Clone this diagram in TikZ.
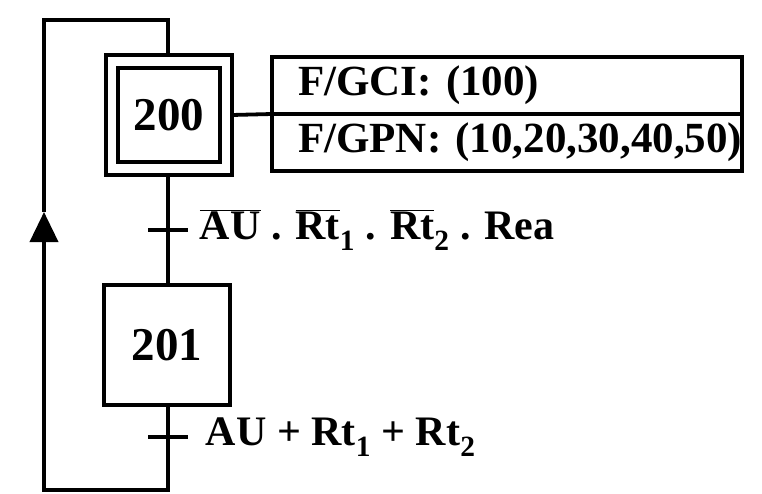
\documentclass[tikz,border=0pt]{standalone}
\usepackage{fontspec}
\setmainfont{Liberation Serif}
\usetikzlibrary{positioning,arrows.meta}
\newcommand{\nbar}[1]{\ensuremath{\overline{\mbox{#1}}}}
\newcommand{\ssub}[1]{\textsubscript{#1}}

\begin{document}
\begin{tikzpicture}[x=1pt, y=-1pt, line width=3.8pt,
    every node/.style={font=\fontsize{42}{48}\selectfont\bfseries},
    stepbox/.style={draw, minimum width=126pt, minimum height=120pt, inner sep=0pt, outer sep=0pt, font=\fontsize{47}{52}\selectfont\bfseries},
    initbox/.style={draw, minimum width=102pt, minimum height=94pt, inner sep=0pt, outer sep=0pt, font=\fontsize{47}{52}\selectfont\bfseries},
    actbox/.style={draw, text width=418pt, inner xsep=26pt, inner ysep=0pt, minimum height=57pt, align=left, outer sep=0pt, font=\fontsize{43}{48}\selectfont\bfseries},
    cond/.style={inner sep=0pt, anchor=west}]
    \useasboundingbox (0,0) rectangle (762,494);
    % steps
    \node[stepbox] (s200o) at (169,115) {};
    \node[initbox] (s200) at (s200o.center) {200};
    \node[stepbox] (s201) at (167,345) {201};
    % actions of step 200
    \node[actbox, anchor=north west] (act1) at (272,57) {\mbox{F/GCI: (100)}};
    \node[actbox, below=0pt of act1] (act2) {\mbox{F/GPN: (10,20,30,40,50)}};
    \draw (s200o.east) -- (act1.south west);
    % transitions
    \coordinate (t1) at (168,230);
    \coordinate (t2) at (168,437);
    \draw (s200o.south -| t1) -- (s201.north -| t1);
    \draw ([xshift=-20pt]t1) -- ([xshift=20pt]t1);
    \node[cond, right=30pt of t1] (c1) {\nbar{AU} . \nbar{Rt}\ssub{1} . \nbar{Rt}\ssub{2} . Rea};
    \draw ([xshift=-20pt]t2) -- ([xshift=20pt]t2);
    \node[cond, right=36pt of t2] (c2) {AU + Rt\ssub{1} + Rt\ssub{2}};
    % loop back to step 200
    \coordinate (b1) at (168,490);
    \coordinate (b2) at (44,490);
    \coordinate (a1) at (44,212);
    \coordinate (u1) at (44,20);
    \coordinate (u2) at (168,20);
    \draw (s201.south -| t2) -- (b1) -- (b2) -- ([yshift=-10pt]a1);
    \draw[-{Triangle[length=30pt,width=28pt]}] ([yshift=-40pt]a1) -- (a1);
    \draw (a1) -- (u1) -- (u2) -- (s200o.north -| u2);
\end{tikzpicture}
\end{document}
